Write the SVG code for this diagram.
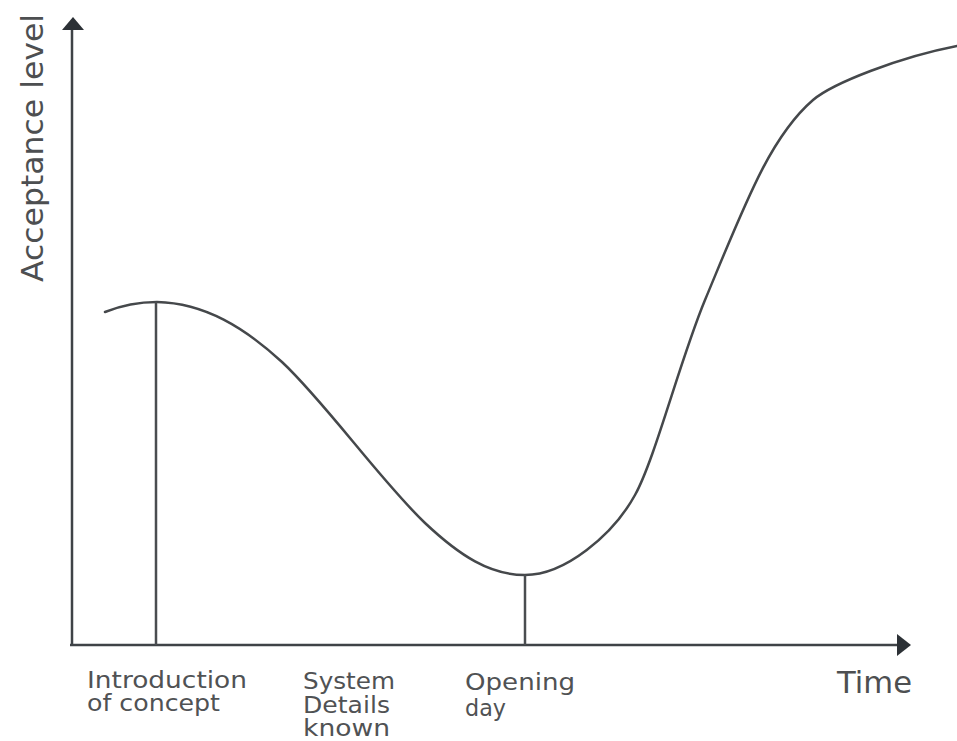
<svg xmlns="http://www.w3.org/2000/svg" width="957" height="741" viewBox="0 0 957 741">
<style>
.ax{stroke:#3f4347;stroke-width:2.5;fill:none}
.cv{stroke:#45484b;stroke-width:2.5;fill:none;stroke-linecap:round;stroke-linejoin:round}
.tk{stroke:#4a4d50;stroke-width:2.5}
.ah{fill:#2c3136}
.lb{font-family:"DejaVu Sans","Liberation Sans",sans-serif;font-size:23px;fill:#505254}
.tt{font-family:"DejaVu Sans","Liberation Sans",sans-serif;font-size:30px;fill:#4d4f51}
</style>
<rect width="957" height="741" fill="#ffffff"/>
<g id="axes">
<line class="ax" x1="72" y1="645" x2="72" y2="26"/>
<polygon class="ah" points="73,17 62,30 84,30"/>
<line class="ax" x1="70" y1="645" x2="900" y2="645"/>
<polygon class="ah" points="911,645 897,634 897,656"/>
</g>
<g id="curve">
<path class="cv" d="M105,312 C125,304 140,302 157,302 C205,303 245,328 282,362 C325,402 380,480 425,523 C460,556 490,575 525,575 C565,575 613,535 635,495 C655,459 680,360 705,300 C745,204 770,137 813,100 C833,83 900,57 957,46"/>
</g>
<g id="markers">
<line class="tk" x1="156" y1="302" x2="156" y2="645"/>
<line class="tk" x1="525" y1="575" x2="525" y2="645"/>
</g>
<g id="ylabel">
<text class="tt" transform="translate(43,282) rotate(-90)" textLength="268" lengthAdjust="spacingAndGlyphs">Acceptance level</text>
</g>
<g id="xlabel">
<text class="tt" x="837" y="693" textLength="75" lengthAdjust="spacingAndGlyphs">Time</text>
</g>
<g id="label-intro">
<text class="lb" x="87" y="688" textLength="160" lengthAdjust="spacingAndGlyphs">Introduction</text>
<text class="lb" x="87" y="711" textLength="133" lengthAdjust="spacingAndGlyphs">of concept</text>
</g>
<g id="label-system">
<text class="lb" x="303" y="689" textLength="92" lengthAdjust="spacingAndGlyphs">System</text>
<text class="lb" x="303" y="713" textLength="87" lengthAdjust="spacingAndGlyphs">Details</text>
<text class="lb" x="303" y="736" textLength="87" lengthAdjust="spacingAndGlyphs">known</text>
</g>
<g id="label-opening">
<text class="lb" x="465" y="690" textLength="110" lengthAdjust="spacingAndGlyphs">Opening</text>
<text class="lb" x="465" y="716" textLength="41" lengthAdjust="spacingAndGlyphs">day</text>
</g>
</svg>
